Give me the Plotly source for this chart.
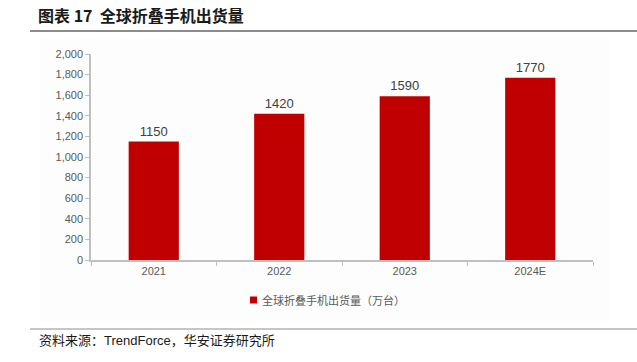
import plotly.graph_objects as go

categories = ["2021", "2022", "2023", "2024E"]
shipments = [1150, 1420, 1590, 1770]
y_ticks = [0, 200, 400, 600, 800, 1000, 1200, 1400, 1600, 1800, 2000]
y_tick_labels = ["0", "200", "400", "600", "800", "1,000", "1,200", "1,400", "1,600", "1,800", "2,000"]
legend_label = "全球折叠手机出货量（万台）"

W, H = 637, 362
L, R, T, B = 91, 44, 54, 102
PW, PH = W - L - R, H - T - B


def px(x):
    return (x - L) / PW


def py(y):
    return (H - B - y) / PH


fig = go.Figure()
fig.add_trace(go.Bar(
    x=categories, y=shipments, name=legend_label,
    marker=dict(color="#C00000", line=dict(width=0)),
    width=0.4,
    text=[str(v) for v in shipments], textposition="outside",
    textfont=dict(size=13, color="#404040", family="Liberation Sans, Arial"),
    cliponaxis=False, showlegend=False,
))

fig.update_layout(
    width=W, height=H,
    margin=dict(l=L, r=R, t=T, b=B),
    paper_bgcolor="white", plot_bgcolor="rgba(0,0,0,0)",
    font=dict(family="Liberation Sans, Arial, Noto Sans CJK SC", color="#595959", size=11),
    showlegend=False,
    xaxis=dict(type="category", showline=True, linecolor="#BFBFBF", linewidth=1.5,
               ticks="outside", tickson="boundaries", ticklen=4, tickcolor="#BFBFBF",
               tickfont=dict(size=11, color="#595959"), showgrid=False),
    yaxis=dict(range=[0, 2000], tickvals=y_ticks, ticktext=y_tick_labels,
               showline=True, linecolor="#BFBFBF", linewidth=1.5,
               ticks="outside", ticklen=4, tickcolor="#BFBFBF",
               tickfont=dict(size=11, color="#595959"), showgrid=False, zeroline=False),
)

# faint background panel
fig.add_shape(type="rect", xref="paper", yref="paper",
              x0=px(40), x1=px(610), y0=py(322), y1=py(38),
              fillcolor="#FDFDFD", line=dict(width=0), layer="below")

# legend (manual)
fig.add_shape(type="rect", xref="paper", yref="paper",
              x0=px(250), x1=px(257), y0=py(303.5), y1=py(296.5),
              fillcolor="#C00000", line=dict(width=0))
fig.add_annotation(text=legend_label, xref="paper", yref="paper",
                   x=px(260), y=py(300), xanchor="left", yanchor="middle", showarrow=False,
                   font=dict(size=11, color="#595959", family="Noto Sans CJK SC"))

# title and rules
fig.add_annotation(text="<b>图表 17  全球折叠手机出货量</b>", xref="paper", yref="paper",
                   x=px(36), y=py(15), xanchor="left", yanchor="middle", showarrow=False,
                   font=dict(size=16, color="#1a1a1a", family="Noto Sans CJK SC"))
fig.add_shape(type="line", xref="paper", yref="paper",
              x0=px(30), x1=px(637), y0=py(31), y1=py(31),
              line=dict(color="#8C8C8C", width=2))
fig.add_shape(type="line", xref="paper", yref="paper",
              x0=px(30), x1=px(637), y0=py(329), y1=py(329),
              line=dict(color="#8C8C8C", width=1))
fig.add_annotation(text="资料来源：TrendForce，华安证券研究所", xref="paper", yref="paper",
                   x=px(37), y=py(340), xanchor="left", yanchor="middle", showarrow=False,
                   font=dict(size=13, color="#1a1a1a", family="Liberation Sans, Noto Sans CJK SC"))

fig.write_html("out.html", config={"displayModeBar": False},
               post_script="document.body.style.margin='0';document.body.style.overflow='hidden';")
